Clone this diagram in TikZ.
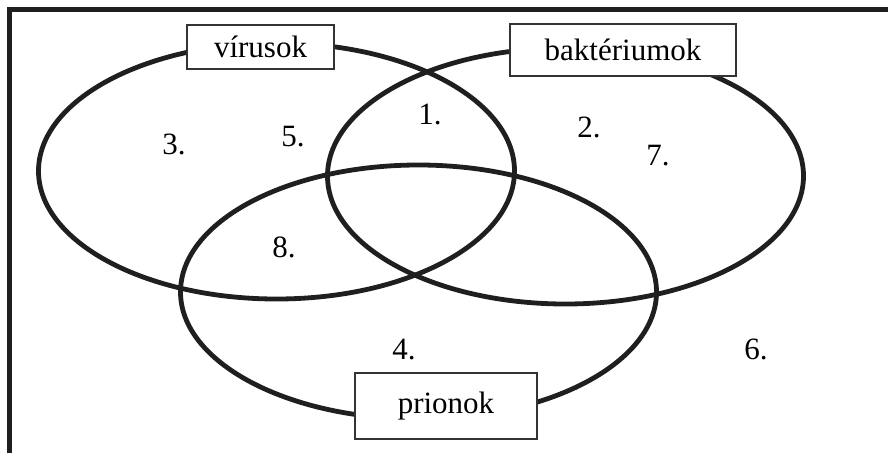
\documentclass[tikz,border=0pt]{standalone}
\usepackage{fontspec}
\setmainfont{Liberation Serif}
\newfontfamily\tnr{Liberation Serif}
\begin{document}
\begin{tikzpicture}[x=1pt,y=-1pt,
  setline/.style={line width=4.8pt,draw=black!88},
  labelbox/.style={draw=black!80,line width=1.2pt,fill=white,inner sep=0pt,font=\tnr\fontsize{31}{37}\selectfont},
  num/.style={inner sep=0pt,font=\tnr\fontsize{31}{37}\selectfont}]
\useasboundingbox (0,0) rectangle (888,453);
% frame
\draw[line width=4.6pt,draw=black!88] (9.5,453) -- (9.5,9.5) -- (888,9.5);
% sets
\draw[setline] (276.5,171) ellipse [x radius=238pt, y radius=128pt];
\draw[setline] (565.5,176) ellipse [x radius=238pt, y radius=128pt];
\draw[setline] (418.5,292) ellipse [x radius=238pt, y radius=127pt];
% label boxes
\node[labelbox,minimum width=147pt,minimum height=44pt] (vir) at (260.5,47) {vírusok};
\node[labelbox,minimum width=226pt,minimum height=52pt] (bak) at (623,50) {baktériumok};
\node[labelbox,minimum width=182pt,minimum height=66pt] (pri) at (446,406) {prionok};
% region numbers
\node[num] (n1) at (430,114) {1.};
\node[num] (n2) at (589,127) {2.};
\node[num] (n3) at (174,144) {3.};
\node[num] (n4) at (404,350) {4.};
\node[num] (n5) at (293,137) {5.};
\node[num] (n6) at (756,349) {6.};
\node[num] (n7) at (658,156) {7.};
\node[num] (n8) at (284,247) {8.};
\end{tikzpicture}
\end{document}
